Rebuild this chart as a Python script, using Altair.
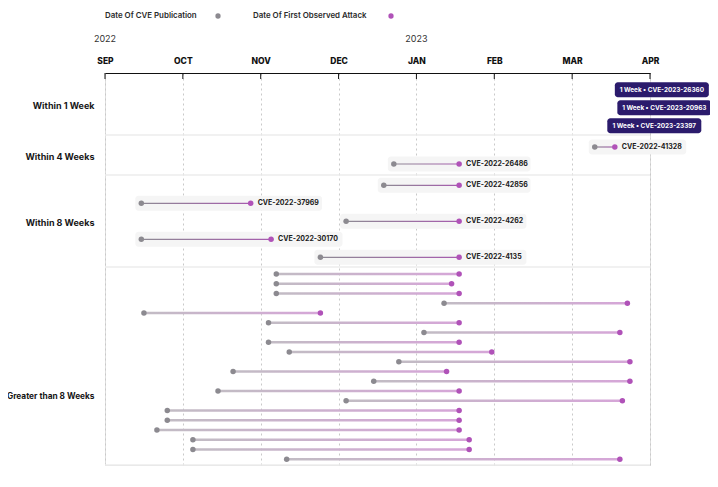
import altair as alt
import pandas as pd

# ---------------- data ----------------
groups = ["Within 1 Week", "Within 4 Weeks", "Within 8 Weeks", "Greater than 8 Weeks"]

week1_cves = ["CVE-2023-26360", "CVE-2023-20963", "CVE-2023-23397"]
week1_dates = ["2023-03-18", "2023-03-19", "2023-03-15"]

week4_cves = ["CVE-2022-41328", "CVE-2022-26486"]
week4_pub = ["2023-03-10", "2022-12-23"]
week4_attack = ["2023-03-18", "2023-01-18"]

week8_cves = ["CVE-2022-42856", "CVE-2022-37969", "CVE-2022-4262", "CVE-2022-30170", "CVE-2022-4135"]
week8_pub = ["2022-12-19", "2022-09-15", "2022-12-04", "2022-09-15", "2022-11-24"]
week8_attack = ["2023-01-18", "2022-10-28", "2023-01-18", "2022-11-05", "2023-01-18"]

over8_pub = ["2022-11-07", "2022-11-07", "2022-11-07", "2023-01-12", "2022-09-16",
             "2022-11-04", "2023-01-04", "2022-11-04", "2022-11-12", "2022-12-25",
             "2022-10-21", "2022-12-15", "2022-10-15", "2022-12-04", "2022-09-25",
             "2022-09-25", "2022-09-21", "2022-10-05", "2022-10-05", "2022-11-11"]
over8_attack = ["2023-01-18", "2023-01-15", "2023-01-18", "2023-03-23", "2022-11-24",
                "2023-01-18", "2023-03-20", "2023-01-18", "2023-01-31", "2023-03-24",
                "2023-01-13", "2023-03-24", "2023-01-18", "2023-03-21", "2023-01-18",
                "2023-01-18", "2023-01-18", "2023-01-22", "2023-01-22", "2023-03-20"]

month_labels = ["SEP", "OCT", "NOV", "DEC", "JAN", "FEB", "MAR", "APR"]
year_labels = ["2022", "2023"]
year_start_month = [0, 4]
series = ["Date Of CVE Publication", "Date Of First Observed Attack"]

# ---------------- layout ----------------
PLOT_W, PLOT_H = 545, 392
PPM = PLOT_W / 7.0  # pixels per month
GRAY = "#8c8a90"
PURPLE = "#b052b8"
BADGE = "#2b1b6c"
FONT = "Inter"

# (pad_top, row_step, pad_bottom) for each section
section_layout = [(16.7, 18, 9.3), (12, 17, 11), (10.3, 18, 9.7), (7, 9.75, 5.75)]
group_label_y = [32, 83, 149, 323]


def mpos(s):
    d = pd.Timestamp(s)
    idx = (d.year - 2022) * 12 + d.month - 9
    return idx + (d.day - 1) / d.days_in_month


counts = [len(week1_cves), len(week4_cves), len(week8_cves), len(over8_pub)]
row_y, boundaries = [], []
top = 0.0
for n, (pt, step, pb) in zip(counts, section_layout):
    ys = [top + pt + i * step for i in range(n)]
    row_y.append(ys)
    top = ys[-1] + pb
    boundaries.append(top)

# lollipop rows
rows = []
for cves, pubs, atts, ys, kind in [
    (week4_cves, week4_pub, week4_attack, row_y[1], "thin"),
    (week8_cves, week8_pub, week8_attack, row_y[2], "thin"),
    ([""] * len(over8_pub), over8_pub, over8_attack, row_y[3], "thick"),
]:
    for c, p, a, y in zip(cves, pubs, atts, ys):
        rows.append(dict(cve=c, xp=mpos(p), xa=mpos(a), y=y, kind=kind))
lol = pd.DataFrame(rows)

thin = lol[lol.kind == "thin"].copy()
thin["y0"] = thin.y - 0.6
thin["y1"] = thin.y + 0.6
thin["bx0"] = thin.xp - 6 / PPM
thin["bx1"] = thin.xa + (7 + 4.1 * thin.cve.str.len() + 7) / PPM
thin["by0"] = thin.y - 7.5
thin["by1"] = thin.y + 7.5

thick = lol[lol.kind == "thick"].copy()
thick["y0"] = thick.y - 1.2
thick["y1"] = thick.y + 1.2

pts = pd.concat([
    pd.DataFrame(dict(x=lol.xp, y=lol.y, s=series[0])),
    pd.DataFrame(dict(x=lol.xa, y=lol.y, s=series[1])),
])

badge_w = 94 / PPM
badges = pd.DataFrame(dict(
    text=["1 Week \u2022 " + c for c in week1_cves],
    x0=[mpos(d) for d in week1_dates],
    y=row_y[0],
))
badges["x1"] = badges.x0 + badge_w
badges["xc"] = badges.x0 + badge_w / 2
badges["y0"] = badges.y - 7.5
badges["y1"] = badges.y + 7.5

seps = pd.DataFrame(dict(y=boundaries, x0=0, x1=7))
ticks = pd.DataFrame(dict(m=list(range(len(month_labels)))))
years = pd.DataFrame(dict(m=year_start_month, t=year_labels))

# ---------------- encodings ----------------
month_expr = "[" + ",".join(f"'{m}'" for m in month_labels) + "][datum.value]"
ylab_expr = " : ".join(
    f"datum.value == {v} ? '{g}'" for v, g in zip(group_label_y, groups)
) + " : ''"

x_scale = alt.Scale(domain=[0, 7], nice=False, zero=False)
y_scale = alt.Scale(domain=[0, PLOT_H], nice=False, zero=False, reverse=True)
x_axis = alt.Axis(
    orient="top", values=list(range(8)), labelExpr=month_expr, title=None,
    labelFont=FONT, labelFontWeight=800, labelFontSize=8.5, labelColor="#111111",
    labelPadding=8, labelFlush=False, ticks=False, domain=True, domainColor="#111111",
    domainWidth=1, grid=True, gridDash=[2, 3], gridColor="#c9c9c9", gridWidth=1,
)
y_axis = alt.Axis(
    orient="left", values=group_label_y, labelExpr=ylab_expr, title=None,
    labelFont=FONT, labelFontWeight=700,
    labelFontSize={"condition": {"test": f"datum.value == {group_label_y[3]}", "value": 8.3},
                   "value": 9},
    labelColor="#161616",
    labelPadding=11, ticks=False, domain=False, grid=False,
)


def X(f):
    return alt.X(f"{f}:Q", scale=x_scale, axis=x_axis)


def Y(f):
    return alt.Y(f"{f}:Q", scale=y_scale, axis=y_axis)


color = alt.Color("s:N", scale=alt.Scale(domain=series, range=[GRAY, PURPLE]), legend=None)

thin_grad = alt.LinearGradient(
    gradient="linear", x1=0, x2=1, y1=0, y2=0,
    stops=[alt.GradientStop(color="#8e8a94", offset=0),
           alt.GradientStop(color="#a65cae", offset=1)],
)
thick_grad = alt.LinearGradient(
    gradient="linear", x1=0, x2=1, y1=0, y2=0,
    stops=[alt.GradientStop(color="#c2bcc4", offset=0),
           alt.GradientStop(color="#d6a6d8", offset=1)],
)

sep_layer = alt.Chart(seps).mark_rule(color="#ececec", strokeWidth=1.5).encode(
    x=X("x0"), x2="x1", y=Y("y"))
box_layer = alt.Chart(thin).mark_rect(fill="#f5f5f5", cornerRadius=3).encode(
    x=X("bx0"), x2="bx1", y=Y("by0"), y2="by1")
thin_layer = alt.Chart(thin).mark_rect(fill=thin_grad).encode(
    x=X("xp"), x2="xa", y=Y("y0"), y2="y1")
thick_layer = alt.Chart(thick).mark_rect(fill=thick_grad).encode(
    x=X("xp"), x2="xa", y=Y("y0"), y2="y1")
pt_layer = alt.Chart(pts).mark_circle(size=30, opacity=1).encode(
    x=X("x"), y=Y("y"), color=color)
lab_layer = alt.Chart(thin).mark_text(
    align="left", baseline="middle", dx=7, font=FONT, fontWeight=700, fontSize=7,
    color="#1b1b1b").encode(x=X("xa"), y=Y("y"), text="cve:N")
badge_layer = alt.Chart(badges).mark_rect(fill=BADGE, cornerRadius=3).encode(
    x=X("x0"), x2="x1", y=Y("y0"), y2="y1")
badge_text = alt.Chart(badges).mark_text(
    align="center", baseline="middle", font=FONT, fontWeight=700, fontSize=6.4,
    color="white").encode(x=X("xc"), y=Y("y"), text="text:N")
tick_layer = alt.Chart(ticks).mark_rule(color="#111111", strokeWidth=1).encode(
    x=X("m"), y=alt.value(0), y2=alt.value(6))
year_layer = alt.Chart(years).mark_text(
    align="center", baseline="middle", font=FONT, fontSize=9, color="#333333").encode(
    x=X("m"), y=alt.value(-34), text="t:N")

one = alt.Data(values=[{"a": 1}])
leg_style = dict(align="left", baseline="middle", font=FONT, fontWeight=600,
                 fontSize=7.9, color="#2a2a2a")
LEG_Y = -57
leg1 = alt.Chart(one).mark_text(text=series[0], **leg_style).encode(
    x=alt.value(0), y=alt.value(LEG_Y))
leg2 = alt.Chart(one).mark_text(text=series[1], **leg_style).encode(
    x=alt.value(148), y=alt.value(LEG_Y))
dot1 = alt.Chart(one).mark_circle(size=28, opacity=1, color=GRAY).encode(
    x=alt.value(113), y=alt.value(LEG_Y))
dot2 = alt.Chart(one).mark_circle(size=28, opacity=1, color=PURPLE).encode(
    x=alt.value(286), y=alt.value(LEG_Y))

chart = alt.layer(
    sep_layer, box_layer, thin_layer, thick_layer, pt_layer, lab_layer,
    badge_layer, badge_text, tick_layer, year_layer, leg1, leg2, dot1, dot2,
).properties(
    width=PLOT_W, height=PLOT_H,
    autosize=alt.AutoSizeParams(type="none"),
    padding={"left": 97, "top": 65, "right": 60, "bottom": 12},
).configure_view(stroke=None).configure(font=FONT)

chart.save("out.html", embed_options={"renderer": "svg", "actions": False})
